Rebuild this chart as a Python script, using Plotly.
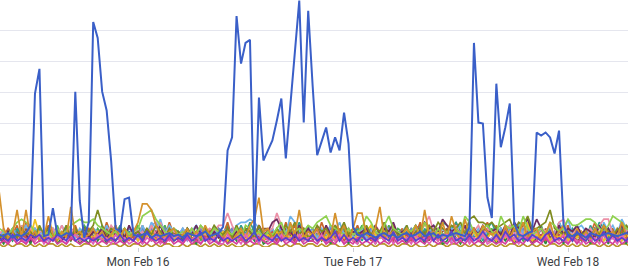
import datetime as dt
import plotly.graph_objects as go

# ---------------- data ----------------
N_POINTS = 142
START = dt.datetime(2026, 2, 15, 8, 30)
STEP_MIN = 30
times = [START + dt.timedelta(minutes=STEP_MIN * i) for i in range(N_POINTS)]

tick_dates = ["2026-02-16", "2026-02-17", "2026-02-18"]
tick_labels = ["Mon Feb 16", "Tue Feb 17", "Wed Feb 18"]

# main (blue) series
main_values = [
    0.4, 0.35, 0.45, 0.3, 0.4, 0.35, 0.45, 0.7, 4.97, 5.77,
    0.35, 0.4, 1.26, 0.4, 0.35, 0.45, 0.4, 5.03, 1.5, 0.3,
    0.8, 7.29, 6.77, 5.03, 4.42, 2.8, 0.6, 0.5, 1.55, 1.6,
    0.4, 0.35, 0.4, 0.45, 0.3, 0.4, 0.35, 0.4, 0.45, 0.35,
    0.4, 0.3, 0.45, 0.4, 0.35, 0.4, 0.5, 0.35, 0.4, 0.45,
    0.65, 3.13, 3.55, 7.48, 5.94, 6.61, 6.71, 0.4, 4.84, 2.8,
    3.13, 3.45, 4.1, 4.81, 2.87, 4.58, 6.29, 7.98, 4.03, 7.65,
    5.2, 2.97, 3.42, 3.87, 3.06, 3.55, 3.13, 4.35, 3.35, 0.65,
    0.4, 0.35, 0.45, 0.4, 0.3, 0.4, 0.45, 0.35, 0.4, 0.3,
    0.4, 0.45, 0.35, 0.4, 0.5, 0.35, 0.4, 0.45, 0.3, 0.4,
    0.35, 0.4, 0.45, 0.4, 0.35, 0.65, 6.61, 4.03, 4.0, 1.61,
    0.94, 5.29, 3.23, 3.87, 4.65, 0.77, 0.4, 0.35, 0.45, 0.5,
    3.71, 3.61, 3.71, 3.55, 3.03, 3.77, 0.71, 0.4, 0.35, 0.45,
    0.4, 0.3, 0.45, 0.4, 0.35, 0.4, 0.45, 0.4, 0.35, 0.4, 0.45, 0.4,
]

# background series, one character per point, value = base36 digit / 10
noise_orange = ("i634c3c352 3a4253d453 4635247362 58eec74356 3462537424 35246379g5 6345284c35 "
                "46253b4726 bb436d3452 46373c4528 3a52946375 4527364835 6248357426 352637453845")
noise_lime = ("6546898753 4536457898 8976545364 56abc97546 4536475465 3546376453 5468475657 "
              "689a765464 56a8547a65 4657485364 5364a85467 54a7675a64 5648756977 8998657a9865")
noise_olive = ("3425364537 4635473646 57c7465364 4536475364 5364536475 4637465374 5364758463 "
               "4756375846 5374658364 4735647586 576849a887 86789587a6 678c654534 453647536475")
noise_maroon = ("3254364253 4635243546 3546354637 4536247354 5364746253 4635465374 5896453746 "
                "4637465735 4563746584 5647586759 7564736475 5647386795 9645374657 465374635746")
noise_pink = ("4635274635 5364736453 4536475364 6453748465 3546374657 7b74536475 56b7465364 "
              "4536475364 5364758463 463757a564 5374635746 4635746375 4657389546 536479945364")
noise_sky = ("3546357464 5364745364 4653746354 5374869475 4635746374 5647889865 46374a8546 "
             "5364758463 4635748564 5736485746 4657384635 5463758463 5647385946 754638574968")
noise_teal = ("4352635426 3546273546 4537264735 5263748562 3546275364 5263748563 4625374856 "
              "3546275364 6253748265 3547263548 7685463526 8463527485 3647285364 527486352748")
noise_green = ("4536274536 3647253647 5364725364 4736254736 5364724536 4725364736 3547263547 "
               "2536473625 4736254736 5264736254 3647256374 6253746253 4736254637 253647362547")
noise_rust = ("5364728364 4735264735 6253847362 5473625384 3625473625 4837265374 6253847362 "
              "5384736254 7362538473 6254837362 5384736258 4736253847 3625384736 254837362538")
noise_lavender = ("3425342534 4253425342 5342534253 4253784253 3425342534 4253425342 5342534253 "
                  "4253425342 3425342534 5342534253 4253425342 3425342534 5342534253 425342534253")
noise_yellow = ("3425364394 3524353425 4352435243 5243524352 4352435243 5243524352 4352435243 "
                "5243524352 4357435243 5243584352 4352435243 5243524382 4352435243 524352435243")
noise_violet = ("2324232434 2324325232 3234232423 2425323242 3242352324 2323423524 3242324232 "
                "4232352423 2423243252 3242325242 3523242353 2425342324 3245232425 324235242324")
noise_magenta = ("1213121312 2131213212 1312131213 2121312131 2131213121 3121312132 1213121312 "
                 "2131213121 3121312131 2131213212 1312131213 2121312131 2131212131 312131213121")
noise_bronze = ("1010110101 0110101001 1010011010 1101010110 0101101010 1010010110 0110101101 "
                "1010110010 0101011010 1101001011 0110101010 1010110101 0101101010 101101010110")
noise_rose = ("2314231324 1324213423 3142314231 2413241324 3142413231 1423142314 2314231423 "
              "3241324132 1423142413 2314231324 4132413241 2314231423 3241324132 142314231423")
noise_slate = ("4536453645 5364536453 4645364536 5364653645 3645364536 5463546354 4536453645 "
               "6354635463 4536453645 5364536453 4645364536 5364653645 3645364536 546354635463")
noise_red = ("3425243524 2534253425 4352435243 3524352435 2435243524 5243524352 3524352435 "
             "4352435243 2534253425 3425243524 4352435243 5243524352 2435243524 352435243524")
noise_brown = ("5263526352 3625362536 6352635263 2536253625 5362536253 3625362536 6253625362 "
               "2635263526 5362536253 3526352635 6253625362 2635263526 5263526352 362536253625")
noise_forest = ("3142534152 4251342513 1524152415 3415234152 4253142531 5142514251 2415341524 "
                "3524152415 1425142534 4152415241 2531425314 5142415241 3415241524 241524152415")

noise_series = [
    ("bronze", noise_bronze, "#b8952a"),
    ("forest", noise_forest, "#2e8b3e"),
    ("green", noise_green, "#4caf50"),
    ("brown", noise_brown, "#9c5935"),
    ("rust", noise_rust, "#c8662b"),
    ("teal", noise_teal, "#2f9e8e"),
    ("slate", noise_slate, "#6f86c7"),
    ("lavender", noise_lavender, "#a98bd6"),
    ("red", noise_red, "#c94c4c"),
    ("sky", noise_sky, "#6fb3ea"),
    ("pink", noise_pink, "#ec8fa6"),
    ("yellow", noise_yellow, "#f0c020"),
    ("maroon", noise_maroon, "#6d2b5e"),
    ("olive", noise_olive, "#7f8c1f"),
    ("lime", noise_lime, "#8fd14f"),
    ("orange", noise_orange, "#d4912c"),
    ("rose", noise_rose, "#e362b8"),
    ("magenta", noise_magenta, "#d43f9e"),
    ("violet", noise_violet, "#5b3fcf"),
]


def decode(s):
    return [int(c, 36) / 10 for c in "".join(s.split())]


# ---------------- figure ----------------
fig = go.Figure()
for name, s, color in noise_series:
    vals = decode(s)
    fig.add_trace(go.Scatter(x=times[:len(vals)], y=vals, mode="lines", name=name,
                             line=dict(color=color, width=1.7), hoverinfo="skip"))

fig.add_trace(go.Scatter(x=times[:len(main_values)], y=main_values, mode="lines",
                         name="main", line=dict(color="#3a5fc8", width=2)))

x_start = dt.datetime(2026, 2, 15, 8, 35, 42)
x_end = dt.datetime(2026, 2, 18, 6, 41, 48)

fig.update_layout(
    width=628, height=278,
    margin=dict(l=0, r=0, t=0, b=31),
    paper_bgcolor="white", plot_bgcolor="white",
    showlegend=False,
    font=dict(family="Roboto", size=12, color="#3c4043"),
    xaxis=dict(range=[x_start, x_end], showgrid=False, zeroline=False,
               tickvals=tick_dates, ticktext=tick_labels,
               ticks="outside", ticklen=4, tickcolor="#d0d0d8", showline=False),
    yaxis=dict(range=[0, 8], dtick=1, showticklabels=False, gridcolor="#e5e6ee",
               gridwidth=1, zeroline=False, showline=False),
)

fig.write_html("out.html")
